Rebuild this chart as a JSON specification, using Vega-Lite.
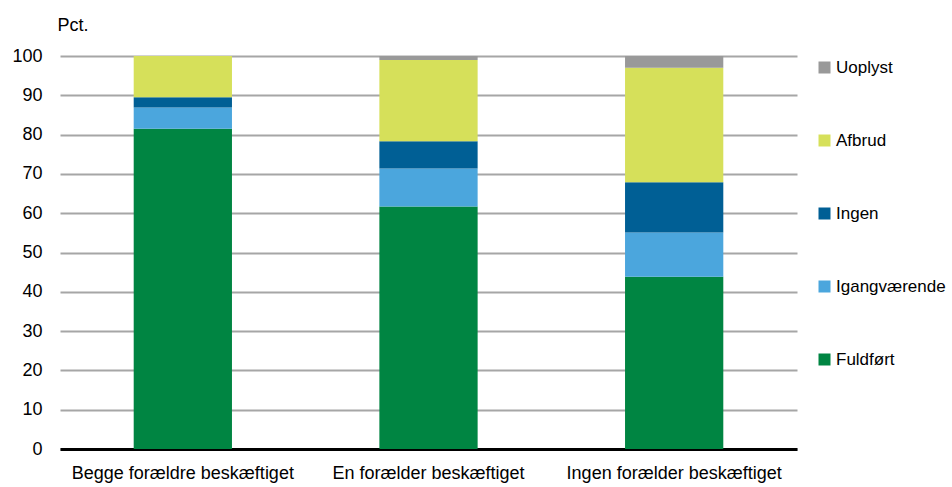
{
  "$schema": "https://vega.github.io/schema/vega-lite/v6.json",
  "width": 737,
  "height": 393,
  "autosize": {"type": "none"},
  "padding": {"left": 60, "top": 56, "right": 155, "bottom": 38},
  "background": "white",
  "config": {
    "view": {"stroke": null},
    "font": "Liberation Sans"
  },
  "data": {
    "values": [
      {"gruppe": "Begge forældre beskæftiget", "status": "Fuldført", "rank": 1, "pct": 81.5},
      {"gruppe": "Begge forældre beskæftiget", "status": "Igangværende", "rank": 2, "pct": 5.4},
      {"gruppe": "Begge forældre beskæftiget", "status": "Ingen", "rank": 3, "pct": 2.6},
      {"gruppe": "Begge forældre beskæftiget", "status": "Afbrud", "rank": 4, "pct": 10.5},
      {"gruppe": "Begge forældre beskæftiget", "status": "Uoplyst", "rank": 5, "pct": 0},
      {"gruppe": "En forælder beskæftiget", "status": "Fuldført", "rank": 1, "pct": 61.7},
      {"gruppe": "En forælder beskæftiget", "status": "Igangværende", "rank": 2, "pct": 9.7},
      {"gruppe": "En forælder beskæftiget", "status": "Ingen", "rank": 3, "pct": 6.9},
      {"gruppe": "En forælder beskæftiget", "status": "Afbrud", "rank": 4, "pct": 20.7},
      {"gruppe": "En forælder beskæftiget", "status": "Uoplyst", "rank": 5, "pct": 1.0},
      {"gruppe": "Ingen forælder beskæftiget", "status": "Fuldført", "rank": 1, "pct": 43.8},
      {"gruppe": "Ingen forælder beskæftiget", "status": "Igangværende", "rank": 2, "pct": 11.3},
      {"gruppe": "Ingen forælder beskæftiget", "status": "Ingen", "rank": 3, "pct": 12.8},
      {"gruppe": "Ingen forælder beskæftiget", "status": "Afbrud", "rank": 4, "pct": 29.1},
      {"gruppe": "Ingen forælder beskæftiget", "status": "Uoplyst", "rank": 5, "pct": 3.0}
    ]
  },
  "mark": {"type": "bar"},
  "encoding": {
    "x": {
      "field": "gruppe",
      "type": "nominal",
      "sort": null,
      "scale": {"paddingInner": 0.6, "paddingOuter": 0.3},
      "axis": {
        "title": null,
        "labelAngle": 0,
        "labelFontSize": 18,
        "labelLimit": 0,
        "labelColor": "black",
        "labelPadding": 15,
        "ticks": false,
        "domainColor": "black",
        "domainWidth": 3,
        "grid": false
      }
    },
    "y": {
      "field": "pct",
      "type": "quantitative",
      "stack": "zero",
      "scale": {"domain": [0, 100], "nice": false},
      "axis": {
        "values": [0, 10, 20, 30, 40, 50, 60, 70, 80, 90, 100],
        "title": "Pct.",
        "titleAngle": 0,
        "titleAlign": "left",
        "titleBaseline": "alphabetic",
        "titleX": -3,
        "titleY": -26,
        "titleFontSize": 18,
        "titleFontWeight": "normal",
        "titleColor": "black",
        "labelFontSize": 18,
        "labelColor": "black",
        "labelPadding": 18,
        "ticks": false,
        "domain": false,
        "grid": true,
        "gridColor": "#a6a6a6",
        "gridWidth": 2
      }
    },
    "order": {"field": "rank", "type": "quantitative", "sort": "ascending"},
    "color": {
      "field": "status",
      "type": "nominal",
      "scale": {
        "domain": ["Uoplyst", "Afbrud", "Ingen", "Igangværende", "Fuldført"],
        "range": ["#999999", "#D6E05A", "#005F95", "#4BA6DD", "#008542"]
      },
      "legend": {
        "title": null,
        "orient": "none",
        "legendX": 756,
        "legendY": 3,
        "symbolType": "square",
        "symbolSize": 144,
        "symbolStrokeWidth": 0,
        "labelFontSize": 17,
        "labelLimit": 0,
        "labelColor": "black",
        "labelOffset": 3,
        "rowPadding": 55
      }
    }
  }
}
